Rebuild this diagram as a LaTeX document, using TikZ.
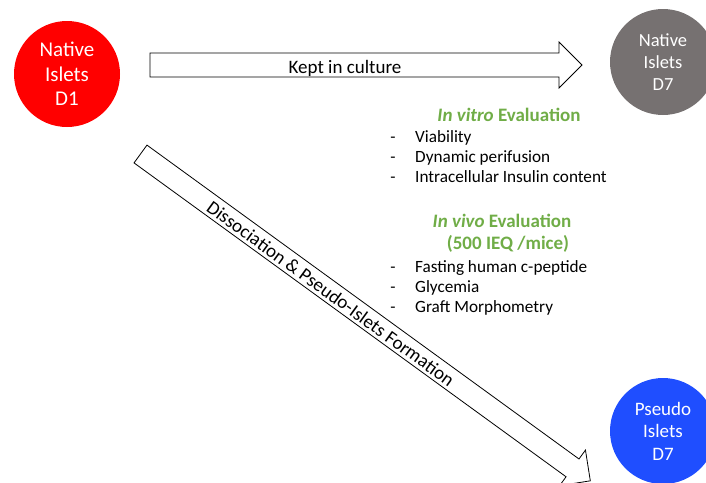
\documentclass[tikz,border=0pt]{standalone}
\usepackage{fontspec}
\setmainfont{Carlito}
\definecolor{islred}{RGB}{255,0,0}
\definecolor{islgray}{RGB}{118,113,113}
\definecolor{islblue}{RGB}{31,78,255}
\definecolor{evalgreen}{RGB}{112,173,71}
\begin{document}
\begin{tikzpicture}[x=1pt,y=-1pt,
  islet/.style={circle, minimum size=106pt, inner sep=0pt, align=center, text=white},
  blockarrow/.style={draw=black, line width=0.8pt, fill=white, line join=miter},
  evalhead/.style={text=evalgreen, font=\fontsize{19}{23}\selectfont\bfseries, inner sep=0pt},
  listdash/.style={font=\fontsize{17}{20.5}\selectfont, inner sep=0pt, anchor=center},
  listitem/.style={font=\fontsize{17.2}{20.5}\selectfont, inner sep=0pt, anchor=west, text height=0.72em, text depth=0.22em},
  arrowlabel/.style={font=\fontsize{19}{23}\selectfont, inner sep=0pt}
]
\clip (0,0) rectangle (706,482);
\useasboundingbox (0,0) rectangle (706,482);

% circles
\node[islet, fill=islred, font=\fontsize{21}{24.5}\selectfont] (d1) at (67,74) {Native\\Islets\\D1};
\node[islet, fill=islgray, font=\fontsize{18.5}{22}\selectfont] (d7n) at (663,62) {Native\\Islets\\D7};
\node[islet, fill=islblue, font=\fontsize{19}{22.5}\selectfont] (d7p) at (663,431) {Pseudo\\Islets\\D7};

% horizontal block arrow
\coordinate (hA) at (150,53);
\draw[blockarrow] (hA) -- (559,53) -- (559,42) -- (582,65) -- (559,88) -- (559,77) -- (150,77) -- cycle;
\node[arrowlabel] (kept) at (345,68) {Kept in culture};

% diagonal block arrow
\begin{scope}[shift={(140.5,154)}, rotate=-36]
  \draw[blockarrow] (0,-11) -- (534,-11) -- (534,-22) -- (556,0) -- (534,22) -- (534,11) -- (0,11) -- cycle;
  \node[arrowlabel, rotate=-36] (diss) at (236,1) {Dissociation \& Pseudo-Islets Formation};
\end{scope}

% in vitro
\node[evalhead] (vitro) at (509,115) {\textit{In vitro} Evaluation};
\node[listdash] (dv1) at (393,140) {-};
\node[listitem] (v1) at (415,140) {Viability};
\node[listdash] (dv2) at (393,160) {-};
\node[listitem] (v2) at (415,160) {Dynamic perifusion};
\node[listdash] (dv3) at (393,180) {-};
\node[listitem] (v3) at (415,180) {Intracellular Insulin content};

% in vivo
\node[evalhead] (vivo) at (502,221) {\textit{In vivo} Evaluation};
\node[evalhead] (ieq) at (508,244) {(500 IEQ /mice)};
\node[listdash] (dw1) at (393,270) {-};
\node[listitem] (w1) at (415,270) {Fasting human c-peptide};
\node[listdash] (dw2) at (393,290) {-};
\node[listitem] (w2) at (415,290) {Glycemia};
\node[listdash] (dw3) at (393,310) {-};
\node[listitem] (w3) at (415,310) {Graft Morphometry};
\end{tikzpicture}
\end{document}
